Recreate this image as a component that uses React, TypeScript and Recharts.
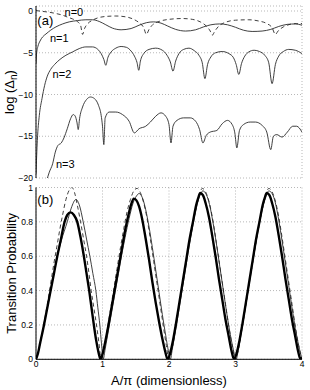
import React from 'react';
import { LineChart, Line, XAxis, YAxis, CartesianGrid, ReferenceDot } from 'recharts';

const FONT = '"Liberation Sans", Arial, Helvetica, sans-serif';

const xTicks = [0, 1, 2, 3, 4];
const topYTicks = [-20, -15, -10, -5, 0];
const botYTicks = [0, 0.2, 0.4, 0.6, 0.8, 1];
const topDomain: [number, number] = [-20, 0.6];
const botDomain: [number, number] = [0, 1];

// (a) log(Delta_n) curves: [A/pi, value]
const n0Curve = [
  [0, 0.05], [0.1, -0.05], [0.2, -0.15], [0.3, -0.3], [0.4, -0.5], [0.48, -0.75], [0.55, -0.95],
  [0.62, -1.25], [0.67, -1.7], [0.7, -2.8], [0.73, -2.1], [0.78, -1.5], [0.85, -1.1], [0.92, -0.85],
  [1.05, -0.65], [1.2, -0.6], [1.35, -0.7], [1.47, -1.0], [1.55, -1.4], [1.62, -2.0], [1.66, -2.8],
  [1.7, -2.2], [1.76, -1.6], [1.85, -1.25], [2.0, -1.0], [2.2, -0.9], [2.35, -1.0], [2.47, -1.3],
  [2.56, -1.8], [2.62, -2.4], [2.65, -2.9], [2.69, -2.4], [2.75, -1.8], [2.85, -1.35], [3.0, -1.1],
  [3.2, -1.05], [3.35, -1.2], [3.47, -1.5], [3.55, -2.0], [3.6, -2.8], [3.64, -2.4], [3.72, -1.9],
  [3.82, -1.6], [3.92, -1.5], [4.0, -1.5],
];
const n1Curve = [
  [0, -6.3], [0.01, -5.0], [0.03, -4.2], [0.06, -3.6], [0.1, -3.1], [0.15, -2.75], [0.22, -2.3],
  [0.3, -1.9], [0.4, -1.55], [0.5, -1.3], [0.62, -1.15], [0.75, -1.05], [0.85, -1.05], [0.95, -1.25],
  [1.05, -1.65], [1.15, -2.05], [1.28, -2.25], [1.43, -2.1], [1.55, -1.7], [1.66, -1.4], [1.77, -1.3],
  [1.88, -1.45], [1.98, -1.8], [2.1, -2.2], [2.25, -2.4], [2.4, -2.25], [2.52, -1.9], [2.63, -1.65],
  [2.76, -1.55], [2.88, -1.65], [3.0, -1.95], [3.12, -2.3], [3.25, -2.45], [3.4, -2.4], [3.53, -2.2],
  [3.65, -1.85], [3.78, -1.6], [3.9, -1.55], [4.0, -1.7],
];
const n2Curve = [
  [0, -19.5], [0.02, -15.5], [0.05, -12.5], [0.09, -10.5], [0.13, -8.9], [0.17, -7.8], [0.22, -7.0],
  [0.28, -6.4], [0.36, -5.8], [0.45, -5.3], [0.55, -4.9], [0.65, -4.5], [0.75, -4.3], [0.85, -4.3],
  [0.93, -4.6], [0.98, -5.1], [1.02, -5.8], [1.05, -6.5], [1.08, -5.6], [1.13, -4.9], [1.2, -4.45],
  [1.28, -4.25], [1.36, -4.35], [1.43, -4.8], [1.48, -5.4], [1.52, -6.2], [1.545, -7.1], [1.57, -6.0],
  [1.62, -5.1], [1.7, -4.6], [1.8, -4.45], [1.9, -4.7], [1.97, -5.3], [2.02, -6.1], [2.06, -7.2],
  [2.1, -6.0], [2.15, -5.1], [2.22, -4.6], [2.3, -4.45], [2.38, -4.75], [2.45, -5.3], [2.5, -6.2],
  [2.54, -8.1], [2.58, -6.4], [2.63, -5.5], [2.7, -5.0], [2.8, -4.85], [2.9, -5.1], [2.97, -5.6],
  [3.01, -6.4], [3.05, -7.6], [3.09, -6.3], [3.14, -5.4], [3.2, -4.9], [3.28, -4.7], [3.36, -4.85],
  [3.44, -5.3], [3.5, -6.2], [3.55, -8.7], [3.6, -6.4], [3.65, -5.4], [3.72, -4.85], [3.8, -4.6],
  [3.9, -4.7], [4.0, -5.1],
];
const n3Curve = [
  [0.16, -20.3], [0.2, -19.3], [0.25, -18.3], [0.29, -16.9], [0.33, -16.1], [0.38, -15.8], [0.42, -15.2],
  [0.47, -14.1], [0.52, -12.9], [0.56, -12.4], [0.59, -12.6], [0.615, -13.3], [0.635, -14.2],
  [0.655, -12.9], [0.7, -11.5], [0.76, -10.6], [0.82, -10.3], [0.88, -10.5], [0.94, -11.3], [0.98, -12.5],
  [1.0, -13.8], [1.02, -16.0], [1.04, -12.8], [1.1, -12.1], [1.2, -12.1], [1.3, -12.4], [1.4, -13.2],
  [1.48, -14.6], [1.55, -14.1], [1.65, -13.8], [1.72, -13.3], [1.8, -12.6], [1.88, -12.2], [1.95, -12.6],
  [2.0, -13.6], [2.03, -15.8], [2.06, -13.8], [2.12, -13.1], [2.22, -12.8], [2.32, -12.8], [2.4, -13.2],
  [2.46, -14.2], [2.51, -15.8], [2.56, -14.9], [2.62, -14.5], [2.72, -14.3], [2.8, -13.5], [2.88, -13.1],
  [2.95, -13.6], [2.99, -14.6], [3.02, -16.4], [3.06, -14.3], [3.12, -13.6], [3.22, -13.3], [3.3, -13.3],
  [3.4, -13.7], [3.47, -14.5], [3.53, -16.6], [3.57, -15.0], [3.62, -14.8], [3.7, -15.1], [3.78, -14.5],
  [3.86, -13.8], [3.92, -13.8], [4.0, -14.5],
];

// (b) transition probability curves: [A/pi, P]
const thickCurve = [
  [0, 0], [0.03, 0.035], [0.06, 0.09], [0.12, 0.2], [0.17, 0.3], [0.22, 0.4], [0.27, 0.5], [0.32, 0.6],
  [0.37, 0.69], [0.43, 0.8], [0.47, 0.84], [0.52, 0.855], [0.57, 0.84], [0.62, 0.8], [0.67, 0.71],
  [0.72, 0.6], [0.76, 0.5], [0.8, 0.4], [0.835, 0.3], [0.87, 0.2], [0.905, 0.11], [0.94, 0.04], [0.97, 0],
  [1.0, 0.03], [1.04, 0.1], [1.09, 0.2], [1.14, 0.31], [1.19, 0.42], [1.24, 0.53], [1.29, 0.64],
  [1.34, 0.75], [1.39, 0.84], [1.43, 0.9], [1.47, 0.935], [1.51, 0.925], [1.55, 0.89], [1.6, 0.81],
  [1.65, 0.7], [1.7, 0.58], [1.75, 0.45], [1.8, 0.33], [1.85, 0.22], [1.9, 0.12], [1.94, 0.05], [1.98, 0],
  [2.02, 0.04], [2.06, 0.11], [2.11, 0.22], [2.16, 0.34], [2.21, 0.46], [2.26, 0.58], [2.31, 0.7],
  [2.36, 0.8], [2.41, 0.9], [2.44, 0.94], [2.47, 0.968], [2.51, 0.955], [2.55, 0.91], [2.6, 0.83],
  [2.65, 0.72], [2.7, 0.6], [2.75, 0.47], [2.8, 0.35], [2.85, 0.23], [2.9, 0.13], [2.94, 0.05], [2.98, 0],
  [3.02, 0.04], [3.06, 0.11], [3.11, 0.22], [3.16, 0.34], [3.21, 0.46], [3.26, 0.58], [3.31, 0.7],
  [3.36, 0.8], [3.41, 0.9], [3.44, 0.94], [3.47, 0.968], [3.51, 0.955], [3.55, 0.91], [3.6, 0.83],
  [3.65, 0.72], [3.7, 0.6], [3.75, 0.47], [3.8, 0.35], [3.85, 0.23], [3.9, 0.13], [3.94, 0.05], [3.98, 0],
  [4.0, 0.01],
];
const thinCurve = [
  [0, 0], [0.03, 0.035], [0.06, 0.09], [0.12, 0.2], [0.17, 0.3], [0.22, 0.4], [0.27, 0.5], [0.32, 0.6],
  [0.38, 0.69], [0.47, 0.8], [0.53, 0.88], [0.6, 0.93], [0.65, 0.9], [0.71, 0.8], [0.76, 0.7], [0.81, 0.6],
  [0.855, 0.5], [0.9, 0.4], [0.93, 0.3], [0.96, 0.2], [0.985, 0.09], [1.01, 0],
  [1.04, 0.06], [1.09, 0.17], [1.14, 0.28], [1.19, 0.39], [1.24, 0.5], [1.29, 0.61], [1.34, 0.71],
  [1.4, 0.82], [1.46, 0.91], [1.51, 0.95], [1.55, 0.965], [1.6, 0.94], [1.65, 0.87], [1.7, 0.77],
  [1.75, 0.65], [1.8, 0.52], [1.85, 0.39], [1.9, 0.26], [1.95, 0.14], [1.99, 0.05], [2.02, 0],
  [2.05, 0.06], [2.1, 0.17], [2.15, 0.29], [2.2, 0.41], [2.25, 0.53], [2.3, 0.65], [2.35, 0.76],
  [2.4, 0.86], [2.45, 0.94], [2.51, 0.98], [2.56, 0.96], [2.61, 0.9], [2.66, 0.8], [2.71, 0.68],
  [2.76, 0.55], [2.81, 0.42], [2.86, 0.29], [2.91, 0.17], [2.96, 0.07], [3.01, 0],
  [3.04, 0.05], [3.09, 0.16], [3.14, 0.28], [3.19, 0.4], [3.24, 0.52], [3.29, 0.64], [3.34, 0.75],
  [3.39, 0.85], [3.44, 0.93], [3.5, 0.98], [3.55, 0.965], [3.6, 0.91], [3.65, 0.81], [3.7, 0.69],
  [3.75, 0.56], [3.8, 0.43], [3.85, 0.3], [3.9, 0.18], [3.95, 0.08], [4.0, 0],
];
const dashedCurve = [
  [0, 0], [0.03, 0.035], [0.06, 0.09], [0.12, 0.21], [0.17, 0.32], [0.22, 0.44], [0.27, 0.56],
  [0.32, 0.67], [0.36, 0.76], [0.4, 0.84], [0.45, 0.93], [0.5, 0.985], [0.54, 1.0], [0.58, 0.97],
  [0.62, 0.9], [0.67, 0.8], [0.72, 0.69], [0.76, 0.6], [0.8, 0.49], [0.83, 0.4], [0.87, 0.3], [0.91, 0.2],
  [0.945, 0.1], [0.98, 0],
  [1.02, 0.06], [1.07, 0.17], [1.12, 0.29], [1.17, 0.41], [1.22, 0.53], [1.27, 0.65], [1.32, 0.76],
  [1.37, 0.86], [1.42, 0.93], [1.47, 0.98], [1.52, 0.995], [1.57, 0.97], [1.62, 0.91], [1.67, 0.82],
  [1.72, 0.7], [1.77, 0.57], [1.82, 0.44], [1.87, 0.31], [1.92, 0.18], [1.96, 0.08], [2.0, 0],
  [2.04, 0.05], [2.09, 0.16], [2.14, 0.28], [2.19, 0.4], [2.24, 0.52], [2.29, 0.64], [2.34, 0.75],
  [2.39, 0.85], [2.44, 0.93], [2.5, 0.995], [2.55, 0.975], [2.6, 0.92], [2.65, 0.83], [2.7, 0.71],
  [2.75, 0.58], [2.8, 0.45], [2.85, 0.32], [2.9, 0.19], [2.95, 0.08], [3.0, 0],
  [3.04, 0.05], [3.09, 0.16], [3.14, 0.28], [3.19, 0.4], [3.24, 0.52], [3.29, 0.64], [3.34, 0.75],
  [3.39, 0.85], [3.44, 0.93], [3.5, 0.995], [3.55, 0.975], [3.6, 0.92], [3.65, 0.83], [3.7, 0.71],
  [3.75, 0.58], [3.8, 0.45], [3.85, 0.32], [3.9, 0.19], [3.95, 0.08], [4.0, 0],
];

// annotation anchors in data coordinates
const panelALabel = { x: 0.14, y: -1.15, text: '(a)' };
const panelBLabel = { x: 0.14, y: 0.93, text: '(b)' };
const curveLabels = [
  { x: 0.57, y: -0.08, text: 'n=0' },
  { x: 0.35, y: -3.3, text: 'n=1' },
  { x: 0.39, y: -7.6, text: 'n=2' },
  { x: 0.44, y: -18.3, text: 'n=3' },
];

const toPts = (arr: number[][]) => arr.map(([x, y]) => ({ x, y }));

const fmtTop = (v: number) => String(v).replace('-', '\u2212');

const tickStyle = { fill: '#000', fontSize: 8.5, fontFamily: FONT };
const gridStroke = '#9a9a9a';
const lineStroke = '#2a2a2a';

const TopYLabel = (props: any) => {
  const vb = props.viewBox || { x: 0, y: 0, width: 0, height: 0 };
  const cx = vb.x + 7.5;
  const cy = vb.y + vb.height / 2;
  return (
    <text x={cx} y={cy} transform={`rotate(-90 ${cx} ${cy})`} textAnchor="middle" fontSize={13} fontFamily={FONT} fill="#000">
      log (Δ<tspan dy={3} fontSize={10}>n</tspan><tspan dy={-3}>)</tspan>
    </text>
  );
};

const BotYLabel = (props: any) => {
  const vb = props.viewBox || { x: 0, y: 0, width: 0, height: 0 };
  const cx = vb.x + 10.5;
  const cy = vb.y + vb.height / 2;
  return (
    <text x={cx} y={cy} transform={`rotate(-90 ${cx} ${cy})`} textAnchor="middle" fontSize={13} fontFamily={FONT} fill="#000">
      Transition Probability
    </text>
  );
};

export default function App() {
  return (
    <div style={{ position: 'absolute', left: 0, top: 0, width: 310, height: 390, background: '#fff', fontFamily: FONT }}>
      <div style={{ position: 'absolute', left: 0, top: 0 }}>
        <LineChart width={310} height={184} margin={{ top: 6, right: 8, bottom: 6, left: 6 }}>
          <CartesianGrid stroke={gridStroke} strokeDasharray="1 2" strokeWidth={0.7} />
          <XAxis type="number" dataKey="x" domain={[0, 4]} ticks={xTicks} tick={false} tickLine={false} height={0}
            axisLine={{ stroke: '#000' }} allowDataOverflow />
          <XAxis xAxisId="top" orientation="top" type="number" dataKey="x" domain={[0, 4]} ticks={xTicks} tick={false}
            tickLine={false} height={0} axisLine={{ stroke: '#000' }} />
          <YAxis type="number" dataKey="y" domain={topDomain} ticks={topYTicks} width={30} tickSize={2} tickMargin={1}
            tickLine={false} axisLine={{ stroke: '#000' }} tick={tickStyle} tickFormatter={fmtTop} allowDataOverflow
            label={TopYLabel} />
          <YAxis yAxisId="right" orientation="right" type="number" domain={topDomain} ticks={topYTicks} width={0}
            tick={false} tickLine={false} axisLine={{ stroke: '#000' }} />
          <Line data={toPts(n0Curve)} dataKey="y" type="monotone" stroke={lineStroke} strokeWidth={0.9}
            strokeDasharray="4 3" dot={false} isAnimationActive={false} />
          <Line data={toPts(n1Curve)} dataKey="y" type="monotone" stroke={lineStroke} strokeWidth={0.9}
            dot={false} isAnimationActive={false} />
          <Line data={toPts(n2Curve)} dataKey="y" type="monotone" stroke={lineStroke} strokeWidth={0.9}
            dot={false} isAnimationActive={false} />
          <Line data={toPts(n3Curve)} dataKey="y" type="monotone" stroke={lineStroke} strokeWidth={0.9}
            dot={false} isAnimationActive={false} />
          <ReferenceDot x={panelALabel.x} y={panelALabel.y} r={0} fill="none" stroke="none"
            label={{ value: panelALabel.text, position: 'center', fontSize: 13, fill: '#000', fontFamily: FONT }} />
          {curveLabels.map((l) => (
            <ReferenceDot key={l.text} x={l.x} y={l.y} r={0} fill="none" stroke="none"
              label={{ value: l.text, position: 'center', fontSize: 11, fill: '#000', fontFamily: FONT }} />
          ))}
        </LineChart>
      </div>
      <div style={{ position: 'absolute', left: 0, top: 182 }}>
        <LineChart width={310} height={208} margin={{ top: 5.5, right: 8, bottom: 2.7, left: 6 }}>
          <CartesianGrid stroke={gridStroke} strokeDasharray="1 2" strokeWidth={0.7} />
          <XAxis type="number" dataKey="x" domain={[0, 4]} ticks={xTicks} height={28} tickSize={2} tickMargin={0}
            tickLine={false} axisLine={{ stroke: '#000' }} tick={tickStyle} allowDataOverflow
            label={{ value: 'A/π (dimensionless)', position: 'insideBottom', offset: 2, fontSize: 13, fill: '#000', fontFamily: FONT }} />
          <XAxis xAxisId="top" orientation="top" type="number" dataKey="x" domain={[0, 4]} ticks={xTicks} tick={false}
            tickLine={false} height={0} axisLine={{ stroke: '#000' }} />
          <YAxis type="number" dataKey="y" domain={botDomain} ticks={botYTicks} width={30} tickSize={2} tickMargin={1}
            tickLine={false} axisLine={{ stroke: '#000' }} tick={tickStyle} allowDataOverflow label={BotYLabel} />
          <YAxis yAxisId="right" orientation="right" type="number" domain={botDomain} ticks={botYTicks} width={0}
            tick={false} tickLine={false} axisLine={{ stroke: '#000' }} />
          <Line data={toPts(dashedCurve)} dataKey="y" type="monotone" stroke={lineStroke} strokeWidth={0.9}
            strokeDasharray="4 3" dot={false} isAnimationActive={false} />
          <Line data={toPts(thinCurve)} dataKey="y" type="monotone" stroke={lineStroke} strokeWidth={0.9}
            dot={false} isAnimationActive={false} />
          <Line data={toPts(thickCurve)} dataKey="y" type="monotone" stroke="#000" strokeWidth={2.4}
            dot={false} isAnimationActive={false} />
          <ReferenceDot x={panelBLabel.x} y={panelBLabel.y} r={0} fill="none" stroke="none"
            label={{ value: panelBLabel.text, position: 'center', fontSize: 13, fill: '#000', fontFamily: FONT }} />
        </LineChart>
      </div>
    </div>
  );
}
